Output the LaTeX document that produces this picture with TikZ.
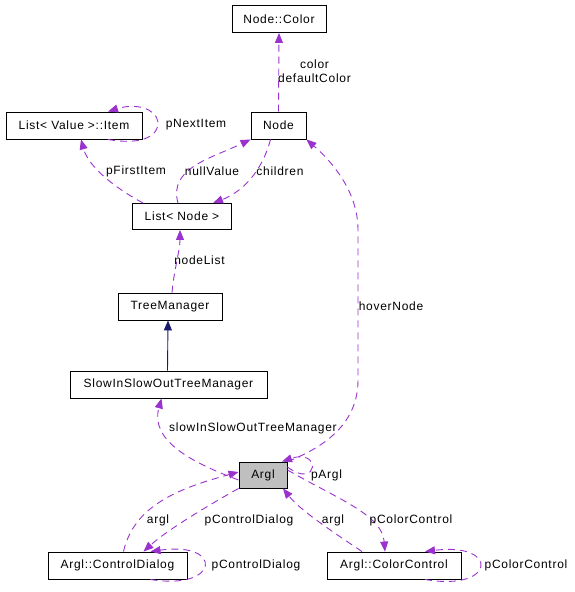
\documentclass[tikz,border=0pt]{standalone}
\usepackage{fontspec}
\setmainfont{Liberation Sans}[LetterSpace=6]
\usetikzlibrary{arrows.meta}
\definecolor{edgepurple}{HTML}{9A32CD}
\definecolor{inheritblue}{HTML}{191970}
\definecolor{boxgray}{HTML}{BFBFBF}
\tikzset{
  class/.style = {draw, line width=0.9pt, inner sep=0pt, minimum height=27pt,
    font=\fontsize{12}{12}\selectfont},
  member/.style = {draw=edgepurple, line width=0.9pt, dash pattern=on 7pt off 5pt,
    -{Triangle[length=10pt, width=8pt, fill=edgepurple]}},
  base/.style = {draw=inheritblue, line width=0.9pt,
    -{Triangle[length=10pt, width=8pt, fill=inheritblue]}},
  lbl/.style = {inner sep=0pt, font=\fontsize{12}{12}\selectfont}
}

\begin{document}
\begin{tikzpicture}[x=1pt, y=-1pt]
  \useasboundingbox (0,0) rectangle (575,592);
  % nodes
  \node (color) [class, minimum width=94pt] at (279,19) {Node::Color};
  \node (item) [class, minimum width=136pt] at (74,125.5) {List< Value >::Item};
  \node (node) [class, minimum width=55pt] at (278.5,125.5) {Node};
  \node (nodelist) [class, minimum width=99pt, minimum height=26pt] at (182,216.5) {List< Node >};
  \node (tm) [class, minimum width=104pt] at (170,306.5) {TreeManager};
  \node (siotm) [class, minimum width=197pt] at (168.5,384.5) {SlowInSlowOutTreeManager};
  \node (argl) [class, fill=boxgray, minimum width=48pt, minimum height=26pt] at (263,475) {Argl};
  \node (dialog) [class, minimum width=139pt] at (117.5,565.5) {Argl::ControlDialog};
  \node (colorctl) [class, minimum width=134pt] at (394,565.5) {Argl::ColorControl};
  % edges
  \draw [member] (node.north) -- (color.south);
  \draw [member] ([xshift=34pt]item.south) .. controls (145,146) and (159,134) .. (158,122)
    .. controls (156,108) and (135,103) .. ([xshift=34pt]item.north);
  \draw [member] ([xshift=-39pt]nodelist.north) .. controls (110,185) and (88,165) .. ([xshift=7pt]item.south);
  \draw [member] ([xshift=-4pt]nodelist.north) .. controls (168,168) and (212,158) .. (node.south west);
  \draw [member] ([xshift=-8pt]node.south) .. controls (262,172) and (242,192) .. ([xshift=31pt]nodelist.north);
  \draw [member] ([xshift=2pt]tm.north) .. controls (174,270) and (180,250) .. ([xshift=-2pt]nodelist.south);
  \draw [base] ([xshift=-1pt]siotm.north) -- ([xshift=-2pt]tm.south);
  \draw [member] (argl.north east) .. controls (330,445) and (358,420) .. (358,380)
    -- (358,230) .. controls (358,190) and (330,160) .. (node.south east);
  \draw [member] ([yshift=-5pt]argl.west) .. controls (190,462) and (150,440) .. ([xshift=-7pt]siotm.south);
  \draw [member] ([yshift=8pt]argl.east) .. controls (318,490) and (322,448) .. ([xshift=19pt]argl.north);
  \draw [member] ([xshift=6pt]dialog.north) .. controls (134,505) and (180,488) .. ([yshift=3pt]argl.west);
  \draw [member] (argl.south west) .. controls (200,510) and (165,532) .. ([xshift=26pt]dialog.north);
  \draw [member] ([xshift=33pt]dialog.south) .. controls (220,591) and (224,541) .. ([xshift=33pt]dialog.north);
  \draw [member] ([xshift=-32pt]colorctl.north) .. controls (330,530) and (300,510) .. ([xshift=20pt]argl.south);
  \draw [member] ([yshift=5pt]argl.east) .. controls (340,500) and (382,515) .. ([xshift=-9pt]colorctl.north);
  \draw [member] ([xshift=31pt]colorctl.south) .. controls (496,592) and (500,542) .. ([xshift=31pt]colorctl.north);
  % labels
  \node (l-color) [lbl, align=center] at (314.5,71) {color\\[2pt]defaultColor};
  \node (l-next) [lbl] at (196,125) {pNextItem};
  \node (l-first) [lbl] at (136,171) {pFirstItem};
  \node (l-null) [lbl] at (212,171) {nullValue};
  \node (l-children) [lbl] at (280,171) {children};
  \node (l-nodelist) [lbl] at (199.5,260) {nodeList};
  \node (l-hover) [lbl] at (391,306) {hoverNode};
  \node (l-siotm) [lbl] at (253,428.5) {slowInSlowOutTreeManager};
  \node (l-pargl) [lbl] at (326.5,475) {pArgl};
  \node (l-argl1) [lbl] at (158,520) {argl};
  \node (l-pcd1) [lbl] at (249,520) {pControlDialog};
  \node (l-argl2) [lbl] at (333,520) {argl};
  \node (l-pcc1) [lbl] at (411,520) {pColorControl};
  \node (l-pcd2) [lbl] at (256,565) {pControlDialog};
  \node (l-pcc2) [lbl] at (526,565) {pColorControl};
\end{tikzpicture}
\end{document}
